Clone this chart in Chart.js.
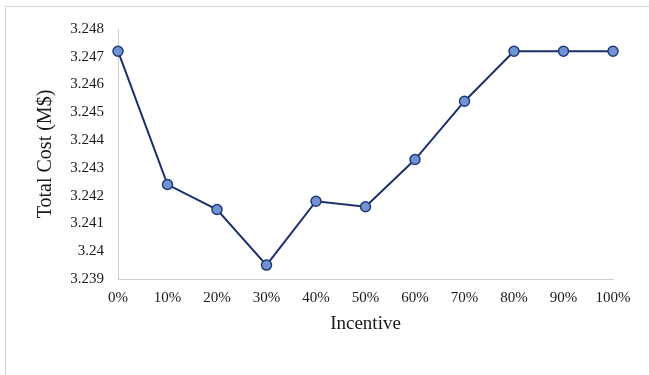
<!DOCTYPE html>
<html>
<head>
<meta charset="utf-8">
<script src="https://cdn.jsdelivr.net/npm/chart.js@4/dist/chart.umd.min.js"></script>
<style>
  html, body { margin: 0; padding: 0; background: #fff; }
  #wrap { position: relative; width: 649px; height: 375px; overflow: hidden; }
  #frame { position: absolute; left: 5px; top: 6px; width: 700px; height: 420px;
           border-left: 1px solid #d9d9d9; border-top: 1px solid #d9d9d9; box-sizing: border-box; }
  canvas { position: absolute; left: 0; top: 0; }
</style>
</head>
<body>
<div id="wrap">
  <div id="frame"></div>
  <canvas id="c" width="649" height="375"></canvas>
</div>
<script>
// Incentive levels and the resulting total cost (million $)
const incentives = ['0%', '10%', '20%', '30%', '40%', '50%', '60%', '70%', '80%', '90%', '100%'];
const totalCost = [3.2472, 3.2424, 3.2415, 3.2395, 3.2418, 3.2416, 3.2433, 3.2454, 3.2472, 3.2472, 3.2472];
const yMin = 3.239;
const yMax = 3.248;
const yStep = 0.001;

const serif = "'Liberation Serif', 'Times New Roman', serif";
const textColor = '#1a1a1a';

new Chart(document.getElementById('c'), {
  type: 'line',
  data: {
    labels: incentives,
    datasets: [{
      data: totalCost,
      borderColor: '#1b2f6e',
      borderWidth: 2,
      pointRadius: 5,
      pointHoverRadius: 5,
      pointBorderWidth: 1.5,
      pointBorderColor: '#1f3a7a',
      pointBackgroundColor: '#7293d2',
      tension: 0,
      fill: false
    }]
  },
  options: {
    responsive: false,
    animation: false,
    devicePixelRatio: 1,
    layout: { padding: { left: 0, right: 36, top: 29, bottom: 0 } },
    plugins: { legend: { display: false }, tooltip: { enabled: false } },
    scales: {
      x: {
        offset: false,
        grid: { display: true, color: 'transparent', drawTicks: false },
        border: { display: true, color: '#d0d0d0', width: 1 },
        ticks: { color: textColor, font: { family: serif, size: 15 }, padding: 10, maxRotation: 0, autoSkip: false },
        title: { display: true, text: 'Incentive', color: textColor,
                 font: { family: serif, size: 19 }, padding: { top: 0, bottom: 40 } },
        afterFit: s => { s.height = 96; }
      },
      y: {
        min: yMin,
        max: yMax,
        grid: { display: true, color: 'transparent', drawTicks: false },
        border: { display: true, color: '#d0d0d0', width: 1 },
        ticks: {
          stepSize: yStep,
          color: textColor,
          font: { family: serif, size: 15 },
          padding: 14,
          callback: v => String(Number(Number(v).toFixed(3)))
        },
        title: { display: true, text: 'Total Cost (M$)', color: textColor,
                 font: { family: serif, size: 20 }, padding: { top: 34, bottom: 0 } },
        afterFit: s => { s.width = 118; }
      }
    }
  }
});
</script>
</body>
</html>
